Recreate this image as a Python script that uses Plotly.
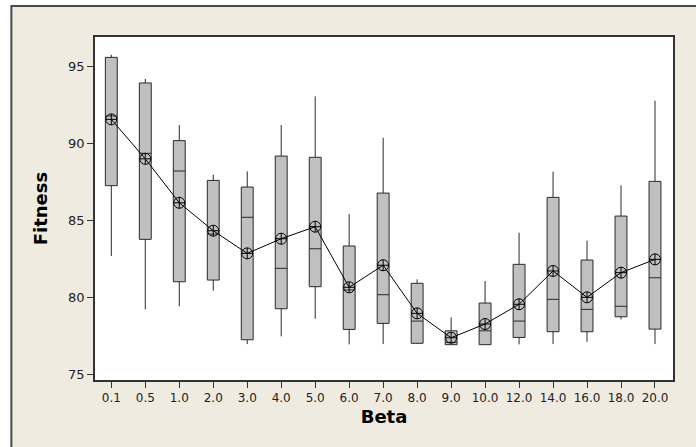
import plotly.graph_objects as go

beta = ["0.1", "0.5", "1.0", "2.0", "3.0", "4.0", "5.0", "6.0", "7.0", "8.0",
        "9.0", "10.0", "12.0", "14.0", "16.0", "18.0", "20.0"]
upper_whisker = [95.75, 94.18, 91.19, 87.97, 88.19, 91.19, 93.05, 85.42, 90.37, 81.19,
                 78.72, 81.08, 84.21, 88.17, 83.69, 87.28, 92.77]
q3 = [95.58, 93.92, 90.18, 87.60, 87.17, 89.18, 89.10, 83.35, 86.78, 80.93,
      77.85, 79.65, 82.16, 86.50, 82.44, 85.29, 87.54]
median = [91.78, 89.36, 88.21, 84.12, 85.21, 81.90, 83.17, 80.50, 80.19, 78.48,
          77.10, 77.85, 78.48, 79.89, 79.24, 79.44, 81.29]
q1 = [87.26, 83.78, 81.03, 81.14, 77.27, 79.28, 80.71, 77.94, 78.33, 77.04,
      76.95, 76.95, 77.42, 77.79, 77.79, 78.76, 77.96]
lower_whisker = [82.70, 79.24, 79.44, 80.45, 76.99, 77.49, 78.63, 76.97, 76.99, 76.99,
                 76.95, 76.95, 76.97, 76.99, 77.14, 78.59, 76.99]
mean = [91.56, 89.00, 86.15, 84.34, 82.87, 83.82, 84.60, 80.67, 82.10, 78.98,
        77.40, 78.29, 79.57, 81.73, 80.02, 81.62, 82.48]

fig = go.Figure()
fig.add_trace(go.Box(
    x=beta, q1=q1, median=median, q3=q3,
    lowerfence=lower_whisker, upperfence=upper_whisker,
    boxpoints=False, width=0.35, whiskerwidth=0,
    fillcolor="#C0C0C0", line=dict(color="#2a2a2a", width=1),
    showlegend=False, hoverinfo="skip",
))
fig.add_trace(go.Scatter(
    x=beta, y=mean, mode="lines+markers",
    line=dict(color="black", width=1),
    marker=dict(symbol="circle-cross-open", size=11, color="black",
                line=dict(width=1, color="black")),
    showlegend=False,
))

# beige frame panel, then white plot area on top of it
fig.add_shape(type="rect", xref="paper", yref="paper",
              x0=-0.1447, x1=1.06, y0=-0.25, y1=1.0904,
              fillcolor="#EFEBE1", line=dict(color="#4a4a4a", width=2),
              layer="below")
fig.add_shape(type="rect", xref="paper", yref="paper",
              x0=0, x1=1, y0=0, y1=1,
              fillcolor="white", line=dict(width=0),
              layer="below")

font = "DejaVu Sans, Verdana, sans-serif"
fig.update_layout(
    width=696, height=447,
    margin=dict(l=95, r=23, t=37, b=67),
    paper_bgcolor="white", plot_bgcolor="rgba(0,0,0,0)",
    font=dict(family=font, size=12, color="#222"),
    xaxis=dict(
        type="category", range=[-0.48, 16.53],
        showline=True, mirror=True, linecolor="#333", linewidth=1.5,
        ticks="outside", ticklen=6, tickcolor="#333", showgrid=False,
        tickfont=dict(size=12, color="#222"),
        title=dict(text="<b>Beta</b>", font=dict(size=18, color="black"), standoff=6),
    ),
    yaxis=dict(
        range=[74.66, 96.9], tickvals=[75, 80, 85, 90, 95],
        showline=True, mirror=True, linecolor="#333", linewidth=1.5,
        ticks="outside", ticklen=6, tickcolor="#333", showgrid=False, zeroline=False,
        tickfont=dict(size=13, color="#222"),
        title=dict(text="<b>Fitness</b>", font=dict(size=18, color="black"), standoff=16),
    ),
)

fig.write_html("out.html")
